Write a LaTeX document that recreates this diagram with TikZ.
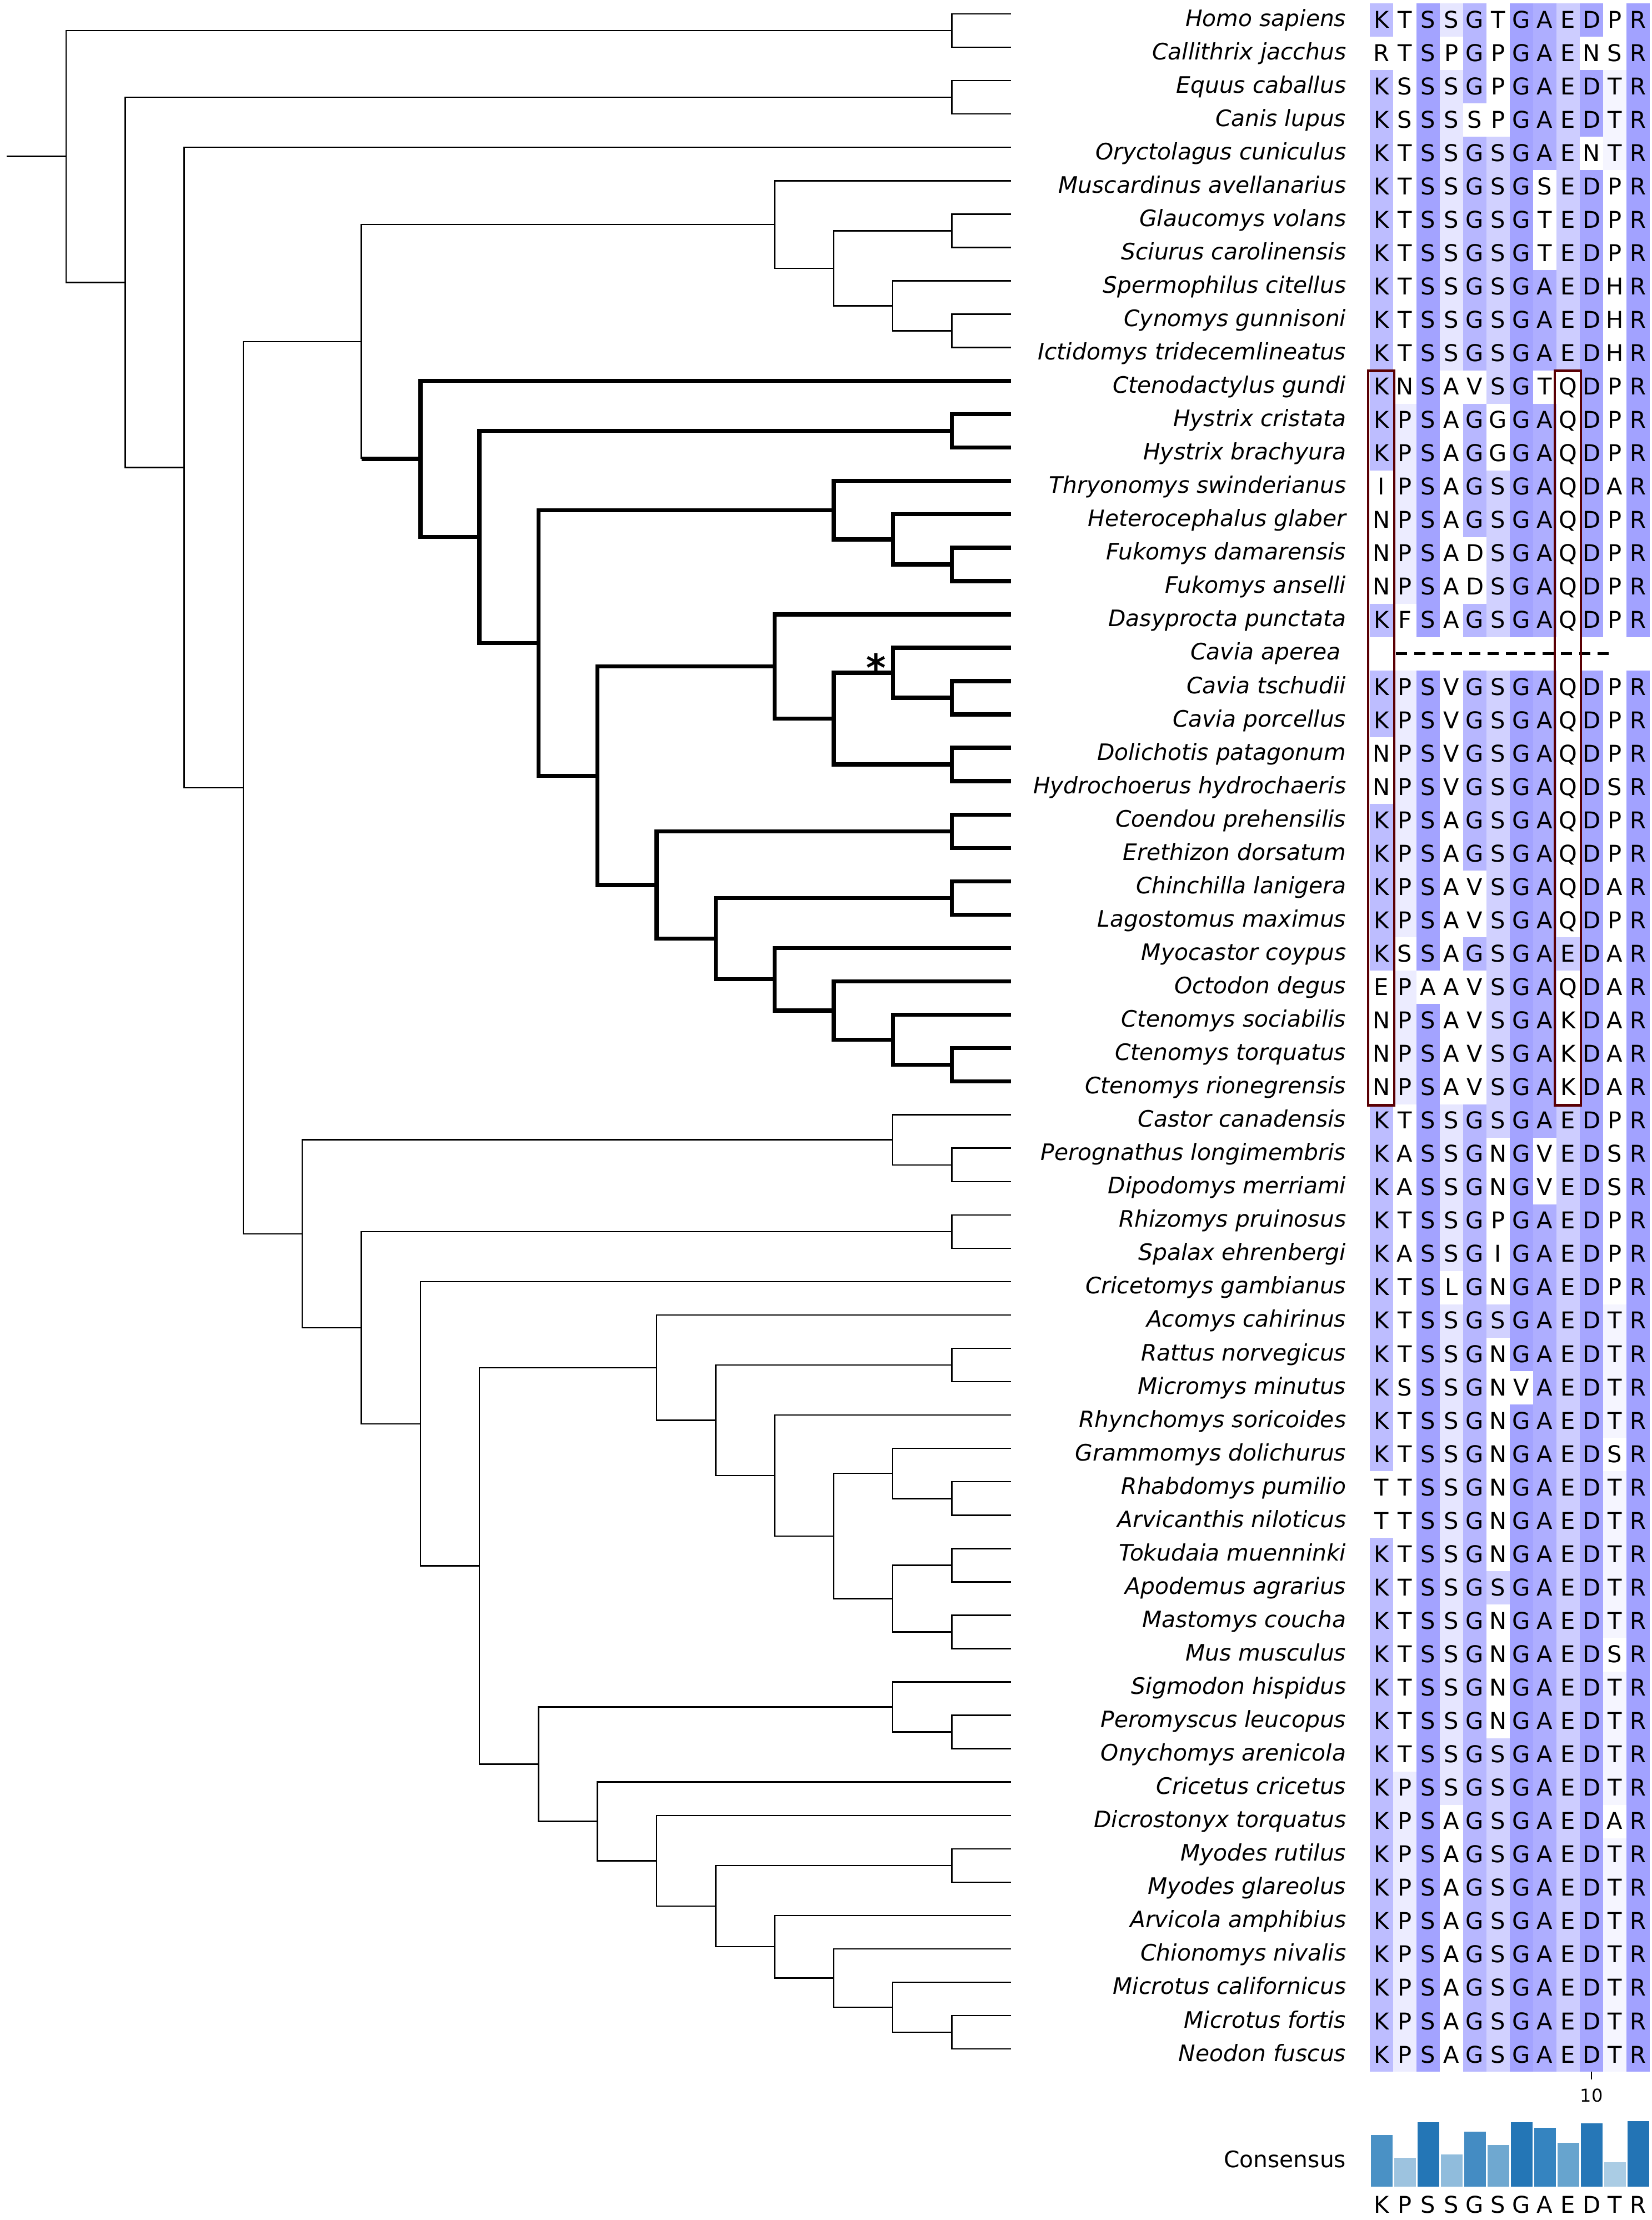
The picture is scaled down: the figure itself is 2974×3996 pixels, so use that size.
\documentclass[tikz,border=0pt]{standalone}
\usepackage{fontspec}
\setmainfont{DejaVu Sans}
\definecolor{col1}{RGB}{189,189,255}
\definecolor{col2}{RGB}{236,236,255}
\definecolor{col3}{RGB}{163,163,255}
\definecolor{col4}{RGB}{230,230,255}
\definecolor{col5}{RGB}{183,183,255}
\definecolor{col6}{RGB}{209,209,255}
\definecolor{col7}{RGB}{163,163,255}
\definecolor{col8}{RGB}{174,174,255}
\definecolor{col9}{RGB}{205,205,255}
\definecolor{col10}{RGB}{166,166,255}
\definecolor{col11}{RGB}{245,245,255}
\definecolor{col12}{RGB}{162,162,255}
\definecolor{bar1}{RGB}{74,145,197}
\definecolor{bar2}{RGB}{157,195,223}
\definecolor{bar3}{RGB}{36,118,182}
\definecolor{bar4}{RGB}{144,188,220}
\definecolor{bar5}{RGB}{68,140,195}
\definecolor{bar6}{RGB}{111,168,208}
\definecolor{bar7}{RGB}{36,118,182}
\definecolor{bar8}{RGB}{53,132,192}
\definecolor{bar9}{RGB}{103,164,206}
\definecolor{bar10}{RGB}{38,119,183}
\definecolor{bar11}{RGB}{170,204,228}
\definecolor{bar12}{RGB}{35,116,181}
\definecolor{boxred}{RGB}{90,0,4}
\def\setcons#1#2{\expandafter\def\csname cons#1\endcsname{#2}}
\setcons{1}{K}\setcons{2}{P}\setcons{3}{S}\setcons{4}{S}\setcons{5}{G}\setcons{6}{S}
\setcons{7}{G}\setcons{8}{A}\setcons{9}{E}\setcons{10}{D}\setcons{11}{T}\setcons{12}{R}
\newcommand\alnrow[2]{%
  \foreach \rch [count=\cc] in {#2} {%
    \edef\myta{\rch}%
    \expandafter\let\expandafter\mytb\csname cons\cc\endcsname
    \ifx\myta\mytb
      \edef\mycname{col\cc}%
      \fill[fill=\mycname] ({2466+42*(\cc-1)},{rowy(#1)-30.03}) rectangle ({2466+42*\cc},{rowy(#1)+30.03});
    \fi
    \node[res] (r#1c\cc) at ({colx(\cc)},{rowy(#1)+14}) {\rch};
  }%
}
\newcommand\twoedges[4]{\draw[#4] (#1) |- (#2); \draw[#4] (#1) |- (#3);}
\begin{document}
\begin{tikzpicture}[x=0.25pt,y=-0.25pt,
  declare function={treey(\r)=25+60.05*(\r-1); rowy(\r)=36+60.05*(\r-1);
    levx(\k)=119+106.3*(\k-1); colx(\c)=2466+42*(\c-0.5);},
  br/.style={line width=0.62pt, line join=miter},
  tbr/.style={line width=1.85pt, line join=miter},
  lab/.style={anchor=base east, inner sep=0pt, font=\fontsize{10.2}{12}\selectfont\itshape},
  res/.style={anchor=base, inner sep=0pt, font=\fontsize{10.4}{12}\selectfont},
  redbox/.style={draw=boxred, line width=1.15pt},
  gapline/.style={line width=1.25pt, dash pattern=on 5pt off 3.25pt},
]
\useasboundingbox (0,0) rectangle (2974,3996);
% ---------- tips
\foreach \i in {1,...,62} \coordinate (t\i) at ({levx(17)},{treey(\i)});
% ---------- internal nodes
\coordinate (rootstub) at (12,{treey(5.274429)});
\coordinate (root) at ({levx(1)},{treey(5.274429)});
\coordinate (n2) at ({levx(2)},{treey(9.048859)});
\coordinate (n3) at ({levx(3)},{treey(14.597717)});
\coordinate (n4) at ({levx(4)},{treey(24.195435)});
\coordinate (prim) at ({levx(16)},{treey(1.5)});
\coordinate (laur) at ({levx(16)},{treey(3.5)});
\coordinate (n6a) at ({levx(6)},{treey(10.825684)});
\coordinate (sciu) at ({levx(13)},{treey(7.3125)});
\coordinate (sc1) at ({levx(14)},{treey(8.625)});
\coordinate (sc2) at ({levx(16)},{treey(7.5)});
\coordinate (sc3) at ({levx(15)},{treey(9.75)});
\coordinate (sc4) at ({levx(16)},{treey(10.5)});
\coordinate (hyst) at ({levx(7)},{treey(14.338867)});
\coordinate (h8) at ({levx(8)},{treey(16.677734)});
\coordinate (hys) at ({levx(16)},{treey(13.5)});
\coordinate (h9) at ({levx(9)},{treey(19.855469)});
\coordinate (phio) at ({levx(14)},{treey(15.875)});
\coordinate (ph2) at ({levx(15)},{treey(16.75)});
\coordinate (ph3) at ({levx(16)},{treey(17.5)});
\coordinate (h10) at ({levx(10)},{treey(23.835938)});
\coordinate (cav) at ({levx(13)},{treey(20.5625)});
\coordinate (cv1) at ({levx(14)},{treey(22.125)});
\coordinate (cvA) at ({levx(15)},{treey(20.75)});
\coordinate (cvB) at ({levx(16)},{treey(21.5)});
\coordinate (cvC) at ({levx(16)},{treey(23.5)});
\coordinate (h11) at ({levx(11)},{treey(27.109375)});
\coordinate (er) at ({levx(16)},{treey(25.5)});
\coordinate (h12) at ({levx(12)},{treey(28.71875)});
\coordinate (ch) at ({levx(16)},{treey(27.5)});
\coordinate (h13) at ({levx(13)},{treey(29.9375)});
\coordinate (h14) at ({levx(14)},{treey(30.875)});
\coordinate (h15) at ({levx(15)},{treey(31.75)});
\coordinate (h16) at ({levx(16)},{treey(32.5)});
\coordinate (n5) at ({levx(5)},{treey(37.565186)});
\coordinate (cas) at ({levx(15)},{treey(34.75)});
\coordinate (cas2) at ({levx(16)},{treey(35.5)});
\coordinate (m6) at ({levx(6)},{treey(40.38037)});
\coordinate (rs) at ({levx(16)},{treey(37.5)});
\coordinate (m7) at ({levx(7)},{treey(43.26074)});
\coordinate (m8) at ({levx(8)},{treey(47.52148)});
\coordinate (mur) at ({levx(11)},{treey(41.578125)});
\coordinate (mu12) at ({levx(12)},{treey(43.15625)});
\coordinate (mu12a) at ({levx(16)},{treey(41.5)});
\coordinate (mu13) at ({levx(13)},{treey(44.8125)});
\coordinate (mu14) at ({levx(14)},{treey(46.625)});
\coordinate (mu15a) at ({levx(15)},{treey(44.75)});
\coordinate (mu16a) at ({levx(16)},{treey(45.5)});
\coordinate (mu15b) at ({levx(15)},{treey(48.5)});
\coordinate (mu16b) at ({levx(16)},{treey(47.5)});
\coordinate (mu16c) at ({levx(16)},{treey(49.5)});
\coordinate (cric) at ({levx(9)},{treey(53.464844)});
\coordinate (cr15) at ({levx(15)},{treey(51.75)});
\coordinate (cr16) at ({levx(16)},{treey(52.5)});
\coordinate (cr10) at ({levx(10)},{treey(55.179688)});
\coordinate (cr11) at ({levx(11)},{treey(56.359375)});
\coordinate (cr12) at ({levx(12)},{treey(57.71875)});
\coordinate (cr16b) at ({levx(16)},{treey(56.5)});
\coordinate (cr13) at ({levx(13)},{treey(58.9375)});
\coordinate (cr14) at ({levx(14)},{treey(59.875)});
\coordinate (cr15b) at ({levx(15)},{treey(60.75)});
\coordinate (cr16c) at ({levx(16)},{treey(61.5)});
% ---------- thin branches
\draw[br] (rootstub) -- (root);
\twoedges{root}{prim}{n2}{br}
\twoedges{prim}{t1}{t2}{br}
\twoedges{n2}{laur}{n3}{br}
\twoedges{laur}{t3}{t4}{br}
\twoedges{n3}{t5}{n4}{br}
\twoedges{n4}{n6a}{n5}{br}
\draw[br] (n6a) |- (sciu);
\draw[br] (n6a) -- (n6a |- hyst);
\twoedges{sciu}{t6}{sc1}{br}
\twoedges{sc1}{sc2}{sc3}{br}
\twoedges{sc2}{t7}{t8}{br}
\twoedges{sc3}{t9}{sc4}{br}
\twoedges{sc4}{t10}{t11}{br}
\twoedges{n5}{cas}{m6}{br}
\twoedges{cas}{t34}{cas2}{br}
\twoedges{cas2}{t35}{t36}{br}
\twoedges{m6}{rs}{m7}{br}
\twoedges{rs}{t37}{t38}{br}
\twoedges{m7}{t39}{m8}{br}
\twoedges{m8}{mur}{cric}{br}
\twoedges{mur}{t40}{mu12}{br}
\twoedges{mu12}{mu12a}{mu13}{br}
\twoedges{mu12a}{t41}{t42}{br}
\twoedges{mu13}{t43}{mu14}{br}
\twoedges{mu14}{mu15a}{mu15b}{br}
\twoedges{mu15a}{t44}{mu16a}{br}
\twoedges{mu16a}{t45}{t46}{br}
\twoedges{mu15b}{mu16b}{mu16c}{br}
\twoedges{mu16b}{t47}{t48}{br}
\twoedges{mu16c}{t49}{t50}{br}
\twoedges{cric}{cr15}{cr10}{br}
\twoedges{cr15}{t51}{cr16}{br}
\twoedges{cr16}{t52}{t53}{br}
\twoedges{cr10}{t54}{cr11}{br}
\twoedges{cr11}{t55}{cr12}{br}
\twoedges{cr12}{cr16b}{cr13}{br}
\twoedges{cr16b}{t56}{t57}{br}
\twoedges{cr13}{t58}{cr14}{br}
\twoedges{cr14}{t59}{cr15b}{br}
\twoedges{cr15b}{t60}{cr16c}{br}
\twoedges{cr16c}{t61}{t62}{br}
% ---------- thick branches (Hystricomorpha)
\draw[tbr] (n6a |- hyst) -- (hyst);
\twoedges{hyst}{t12}{h8}{tbr}
\twoedges{h8}{hys}{h9}{tbr}
\twoedges{hys}{t13}{t14}{tbr}
\twoedges{h9}{phio}{h10}{tbr}
\twoedges{phio}{t15}{ph2}{tbr}
\twoedges{ph2}{t16}{ph3}{tbr}
\twoedges{ph3}{t17}{t18}{tbr}
\twoedges{h10}{cav}{h11}{tbr}
\twoedges{cav}{t19}{cv1}{tbr}
\twoedges{cv1}{cvA}{cvC}{tbr}
\twoedges{cvA}{t20}{cvB}{tbr}
\twoedges{cvB}{t21}{t22}{tbr}
\twoedges{cvC}{t23}{t24}{tbr}
\twoedges{h11}{er}{h12}{tbr}
\twoedges{er}{t25}{t26}{tbr}
\twoedges{h12}{ch}{h13}{tbr}
\twoedges{ch}{t27}{t28}{tbr}
\twoedges{h13}{t29}{h14}{tbr}
\twoedges{h14}{t30}{h15}{tbr}
\twoedges{h15}{t31}{h16}{tbr}
\twoedges{h16}{t32}{t33}{tbr}
% asterisk
\node[anchor=base, inner sep=0pt, font=\fontsize{17}{17}\selectfont\bfseries] (ast) at ({levx(15)-30},{treey(20.75)+15}) {*};
% ---------- labels
\foreach \nm [count=\i] in {Homo sapiens, Callithrix jacchus, Equus caballus, Canis lupus,
  Oryctolagus cuniculus, Muscardinus avellanarius, Glaucomys volans, Sciurus carolinensis,
  Spermophilus citellus, Cynomys gunnisoni, Ictidomys tridecemlineatus, Ctenodactylus gundi,
  Hystrix cristata, Hystrix brachyura, Thryonomys swinderianus, Heterocephalus glaber,
  Fukomys damarensis, Fukomys anselli, Dasyprocta punctata, Cavia aperea\hspace*{2.5pt},
  Cavia tschudii, Cavia porcellus, Dolichotis patagonum, Hydrochoerus hydrochaeris,
  Coendou prehensilis, Erethizon dorsatum, Chinchilla lanigera, Lagostomus maximus,
  Myocastor coypus, Octodon degus, Ctenomys sociabilis, Ctenomys torquatus,
  Ctenomys rionegrensis, Castor canadensis, Perognathus longimembris, Dipodomys merriami,
  Rhizomys pruinosus, Spalax ehrenbergi, Cricetomys gambianus, Acomys cahirinus,
  Rattus norvegicus, Micromys minutus, Rhynchomys soricoides, Grammomys dolichurus,
  Rhabdomys pumilio, Arvicanthis niloticus, Tokudaia muenninki, Apodemus agrarius,
  Mastomys coucha, Mus musculus, Sigmodon hispidus, Peromyscus leucopus,
  Onychomys arenicola, Cricetus cricetus, Dicrostonyx torquatus, Myodes rutilus,
  Myodes glareolus, Arvicola amphibius, Chionomys nivalis, Microtus californicus,
  Microtus fortis, Neodon fuscus}
  \node[lab] (lab\i) at (2424,{rowy(\i)+11}) {\nm};
% ---------- alignment
\alnrow{1}{K,T,S,S,G,T,G,A,E,D,P,R}
\alnrow{2}{R,T,S,P,G,P,G,A,E,N,S,R}
\alnrow{3}{K,S,S,S,G,P,G,A,E,D,T,R}
\alnrow{4}{K,S,S,S,S,P,G,A,E,D,T,R}
\alnrow{5}{K,T,S,S,G,S,G,A,E,N,T,R}
\alnrow{6}{K,T,S,S,G,S,G,S,E,D,P,R}
\alnrow{7}{K,T,S,S,G,S,G,T,E,D,P,R}
\alnrow{8}{K,T,S,S,G,S,G,T,E,D,P,R}
\alnrow{9}{K,T,S,S,G,S,G,A,E,D,H,R}
\alnrow{10}{K,T,S,S,G,S,G,A,E,D,H,R}
\alnrow{11}{K,T,S,S,G,S,G,A,E,D,H,R}
\alnrow{12}{K,N,S,A,V,S,G,T,Q,D,P,R}
\alnrow{13}{K,P,S,A,G,G,G,A,Q,D,P,R}
\alnrow{14}{K,P,S,A,G,G,G,A,Q,D,P,R}
\alnrow{15}{I,P,S,A,G,S,G,A,Q,D,A,R}
\alnrow{16}{N,P,S,A,G,S,G,A,Q,D,P,R}
\alnrow{17}{N,P,S,A,D,S,G,A,Q,D,P,R}
\alnrow{18}{N,P,S,A,D,S,G,A,Q,D,P,R}
\alnrow{19}{K,F,S,A,G,S,G,A,Q,D,P,R}
\alnrow{21}{K,P,S,V,G,S,G,A,Q,D,P,R}
\alnrow{22}{K,P,S,V,G,S,G,A,Q,D,P,R}
\alnrow{23}{N,P,S,V,G,S,G,A,Q,D,P,R}
\alnrow{24}{N,P,S,V,G,S,G,A,Q,D,S,R}
\alnrow{25}{K,P,S,A,G,S,G,A,Q,D,P,R}
\alnrow{26}{K,P,S,A,G,S,G,A,Q,D,P,R}
\alnrow{27}{K,P,S,A,V,S,G,A,Q,D,A,R}
\alnrow{28}{K,P,S,A,V,S,G,A,Q,D,P,R}
\alnrow{29}{K,S,S,A,G,S,G,A,E,D,A,R}
\alnrow{30}{E,P,A,A,V,S,G,A,Q,D,A,R}
\alnrow{31}{N,P,S,A,V,S,G,A,K,D,A,R}
\alnrow{32}{N,P,S,A,V,S,G,A,K,D,A,R}
\alnrow{33}{N,P,S,A,V,S,G,A,K,D,A,R}
\alnrow{34}{K,T,S,S,G,S,G,A,E,D,P,R}
\alnrow{35}{K,A,S,S,G,N,G,V,E,D,S,R}
\alnrow{36}{K,A,S,S,G,N,G,V,E,D,S,R}
\alnrow{37}{K,T,S,S,G,P,G,A,E,D,P,R}
\alnrow{38}{K,A,S,S,G,I,G,A,E,D,P,R}
\alnrow{39}{K,T,S,L,G,N,G,A,E,D,P,R}
\alnrow{40}{K,T,S,S,G,S,G,A,E,D,T,R}
\alnrow{41}{K,T,S,S,G,N,G,A,E,D,T,R}
\alnrow{42}{K,S,S,S,G,N,V,A,E,D,T,R}
\alnrow{43}{K,T,S,S,G,N,G,A,E,D,T,R}
\alnrow{44}{K,T,S,S,G,N,G,A,E,D,S,R}
\alnrow{45}{T,T,S,S,G,N,G,A,E,D,T,R}
\alnrow{46}{T,T,S,S,G,N,G,A,E,D,T,R}
\alnrow{47}{K,T,S,S,G,N,G,A,E,D,T,R}
\alnrow{48}{K,T,S,S,G,S,G,A,E,D,T,R}
\alnrow{49}{K,T,S,S,G,N,G,A,E,D,T,R}
\alnrow{50}{K,T,S,S,G,N,G,A,E,D,S,R}
\alnrow{51}{K,T,S,S,G,N,G,A,E,D,T,R}
\alnrow{52}{K,T,S,S,G,N,G,A,E,D,T,R}
\alnrow{53}{K,T,S,S,G,S,G,A,E,D,T,R}
\alnrow{54}{K,P,S,S,G,S,G,A,E,D,T,R}
\alnrow{55}{K,P,S,A,G,S,G,A,E,D,A,R}
\alnrow{56}{K,P,S,A,G,S,G,A,E,D,T,R}
\alnrow{57}{K,P,S,A,G,S,G,A,E,D,T,R}
\alnrow{58}{K,P,S,A,G,S,G,A,E,D,T,R}
\alnrow{59}{K,P,S,A,G,S,G,A,E,D,T,R}
\alnrow{60}{K,P,S,A,G,S,G,A,E,D,T,R}
\alnrow{61}{K,P,S,A,G,S,G,A,E,D,T,R}
\alnrow{62}{K,P,S,A,G,S,G,A,E,D,T,R}
% gap row (Cavia aperea)
\coordinate (gapA) at (2513,{rowy(20)});
\coordinate (gapB) at (2897,{rowy(20)});
\draw[gapline] (gapA) -- (gapB);
% red boxes
\draw[redbox] (2463,{rowy(12)-29}) rectangle (2510,{rowy(33)+32});
\draw[redbox] (2799,{rowy(12)-29}) rectangle (2846,{rowy(33)+32});
% ruler tick
\coordinate (tk1) at ({colx(10)},{rowy(62)+30});
\coordinate (tk2) at ({colx(10)},3743);
\draw[line width=0.5pt] (tk1) -- (tk2);
\node[inner sep=0pt, font=\fontsize{8}{9}\selectfont] (ten) at ({colx(10)},3772) {10};
% consensus
\node[anchor=base east, inner sep=0pt, font=\fontsize{10.2}{12}\selectfont] (cons) at (2424,3901) {Consensus};
\foreach \n/\ltr [count=\c] in {48/K,27/P,60/S,30/S,51/G,39/S,60/G,55/A,41/E,59/D,23/T,61/R} {
  \edef\mybname{bar\c}
  \fill[fill=\mybname] ({2466+42*(\c-1)+1.5},{3936-118*\n/61}) rectangle ({2466+42*\c-1.5},3936);
  \node[res] (cl\c) at ({colx(\c)},3983) {\ltr};
}
\end{tikzpicture}
\end{document}
